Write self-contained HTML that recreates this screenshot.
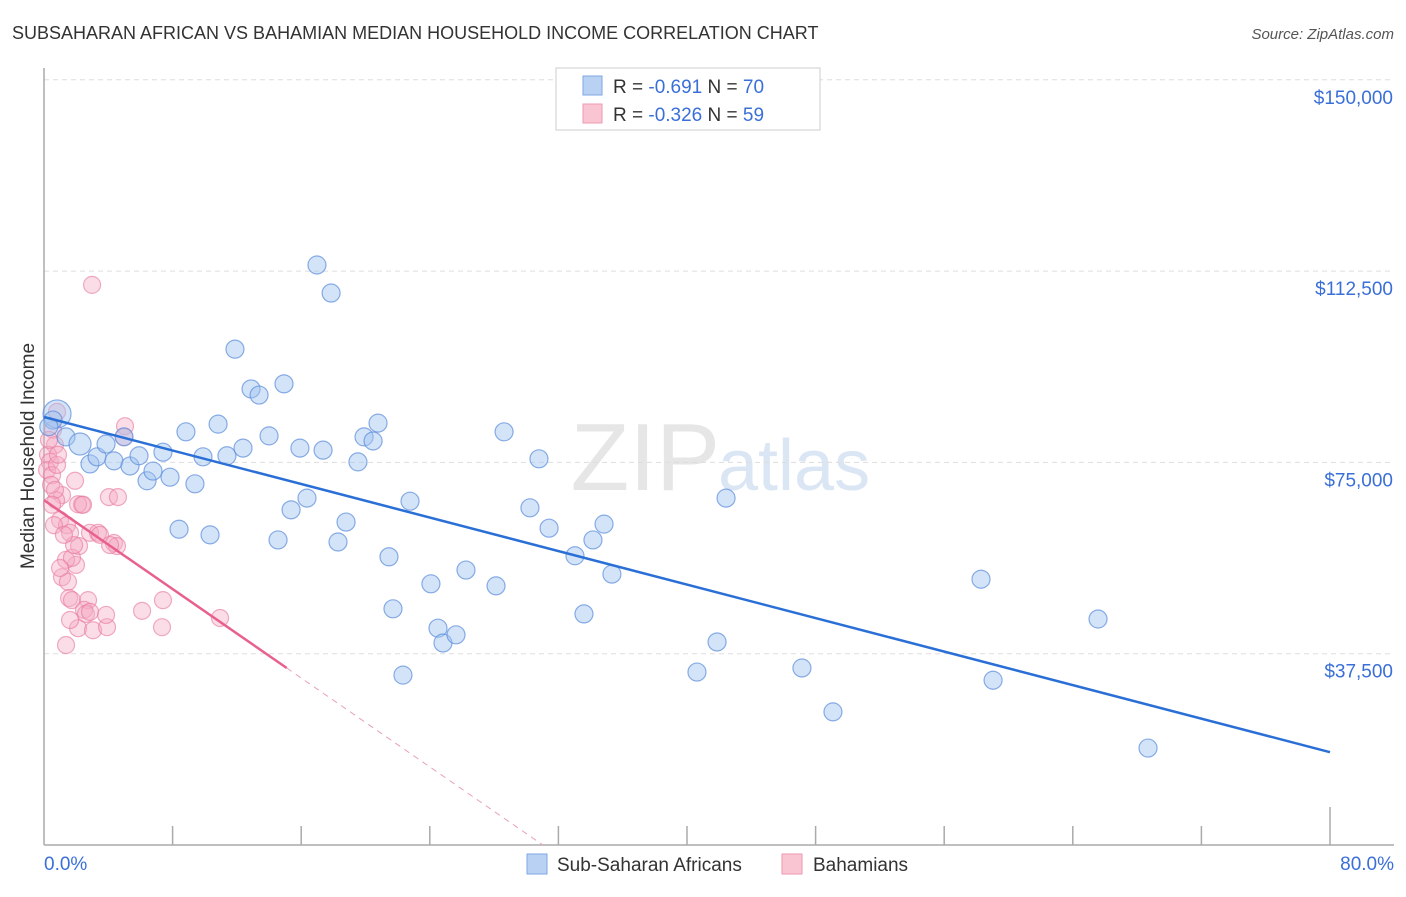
<!DOCTYPE html>
<html><head><meta charset="utf-8"><style>
body{margin:0;background:#fff;font-family:"Liberation Sans",sans-serif;}
svg text{font-family:"Liberation Sans",sans-serif;}
</style></head><body>
<svg id="chart" width="1406" height="892" viewBox="0 0 1406 892" xmlns="http://www.w3.org/2000/svg">
<text x="12" y="39" font-size="18" fill="#333">SUBSAHARAN AFRICAN VS BAHAMIAN MEDIAN HOUSEHOLD INCOME CORRELATION CHART</text>
<text x="1394" y="39" font-size="15" fill="#555" font-style="italic" text-anchor="end">Source: ZipAtlas.com</text>
<text x="720" y="490" font-size="96" fill="#e6e6e6" font-family="Liberation Serif" text-anchor="end">ZIP</text>
<text x="718" y="490" font-size="72" fill="#dbe6f5">atlas</text>
<g id="grid"></g>
<line x1="44" y1="68" x2="44" y2="845" stroke="#aaa" stroke-width="1.5"/>
<line x1="44" y1="845" x2="1394" y2="845" stroke="#aaa" stroke-width="1.5"/>
<g id="xticks"></g>
<text transform="translate(34,456) rotate(-90)" font-size="19" fill="#333" text-anchor="middle">Median Household Income</text>
<text x="44" y="870" font-size="19" fill="#3a6fd8">0.0%</text>
<text x="1394" y="870" font-size="19" fill="#3a6fd8" text-anchor="end">80.0%</text>
<g id="pts"></g>
<g id="lines"></g>
<g>
<rect x="556" y="68" width="264" height="62" fill="#fff" stroke="#ccc"/>
<rect x="583" y="76" width="19" height="19" fill="#b9d1f3" stroke="#7ea6e6"/>
<rect x="583" y="104" width="19" height="19" fill="#f9c5d3" stroke="#ec9ab2"/>
<text x="613" y="93" font-size="19" fill="#333">R = <tspan fill="#3a6fd8">-0.691</tspan>   N = <tspan fill="#3a6fd8">70</tspan></text>
<text x="613" y="121" font-size="19" fill="#333">R = <tspan fill="#3a6fd8">-0.326</tspan>   N = <tspan fill="#3a6fd8">59</tspan></text>
</g>
<g>
<rect x="527" y="854" width="20" height="20" fill="#b9d1f3" stroke="#7ea6e6"/>
<text x="557" y="871" font-size="19" fill="#333">Sub-Saharan Africans</text>
<rect x="782" y="854" width="20" height="20" fill="#f9c5d3" stroke="#ec9ab2"/>
<text x="813" y="871" font-size="19" fill="#333">Bahamians</text>
</g>
</svg>
<script>
const yTicks=[37500,75000,112500,150000];
const yTickLabels=["$37,500","$75,000","$112,500","$150,000"];
const xTicks=[8,16,24,32,40,48,56,64,72,80];
const blueX=[0.81,0.56,1.37,2.24,2.86,3.30,3.86,4.35,4.98,5.35,5.91,6.41,6.78,7.40,7.84,8.83,9.39,8.40,9.89,10.33,10.83,11.38,11.88,12.38,12.88,13.38,14.00,14.56,14.93,15.37,15.92,16.36,16.98,17.36,17.86,18.29,18.79,19.53,19.91,20.47,20.78,21.46,21.71,22.33,22.77,24.07,24.51,24.82,25.63,26.25,28.12,28.62,30.23,30.79,31.42,33.03,33.59,34.15,34.84,35.33,40.62,41.87,42.43,47.15,49.08,58.29,59.04,65.57,68.68,0.3];
const blueY=[84.5,83.3,80.0,78.6,74.7,76.1,78.6,75.3,80.0,74.3,76.3,71.4,73.3,77.0,72.1,81.0,70.8,61.9,76.1,60.8,82.5,76.3,97.2,77.8,89.4,88.2,80.2,59.8,90.4,65.7,77.8,68.0,113.7,77.4,108.2,59.4,63.3,75.1,80.0,79.2,82.7,56.5,46.3,33.3,67.4,51.2,42.5,39.6,41.2,53.9,50.8,81.0,66.1,75.7,62.1,56.7,45.3,59.8,62.9,53.1,33.9,39.8,68.0,34.7,26.1,52.1,32.3,44.3,19.0,82.0];
const blueSize=[14,9,9,11,9,9,9,9,9,9,9,9,9,9,9,9,9,9,9,9,9,9,9,9,9,9,9,9,9,9,9,9,9,9,9,9,9,9,9,9,9,9,9,9,9,9,9,9,9,9,9,9,9,9,9,9,9,9,9,9,9,9,9,9,9,9,9,9,9,9];
const pinkX=[2.99,0.81,0.56,0.68,0.25,0.37,0.19,0.50,0.81,1.12,1.93,2.36,1.00,1.43,1.62,2.86,3.36,2.18,1.99,1.37,1.74,1.12,1.49,1.56,1.74,2.74,2.49,4.04,4.60,5.04,4.98,4.35,4.54,2.12,3.05,3.92,6.10,7.34,7.40,10.95,1.37,2.12,0.75,0.44,0.62,2.61,1.62,1.00,3.48,1.87,1.24,0.31,0.68,2.86,3.86,2.43,4.11,0.87,0.50];
const pinkY=[109.8,84.9,81.4,78.4,76.5,75.1,73.5,72.5,74.5,68.6,71.4,66.7,63.7,62.7,61.2,61.2,61.2,58.6,54.9,55.9,56.3,52.5,51.6,48.4,48.0,48.0,46.1,68.2,68.2,82.1,80.0,59.2,58.6,42.5,42.1,42.7,45.9,42.7,48.0,44.5,39.2,66.8,67.6,70.6,62.7,45.3,44.1,54.3,60.8,58.8,60.8,79.4,69.6,45.7,45.1,66.7,58.8,76.5,66.7];
const blueTrend=[83.9,18.2];
const pinkTrend=[67.6,34.7,15.1];
const NS="http://www.w3.org/2000/svg";
const X0=44,X1=1330,Y0=845,YP=191.3/37500;
function sx(p){return X0+(p/80)*(X1-X0);}
function sy(v){return Y0-v*YP;}
function mk(t,a,parent){const e=document.createElementNS(NS,t);for(const k in a)e.setAttribute(k,a[k]);parent.appendChild(e);return e;}
const grid=document.getElementById('grid');
yTicks.forEach((v,i)=>{
 const l=mk('line',{x1:44,x2:1394,y1:sy(v),y2:sy(v),stroke:'#ddd','stroke-dasharray':'5,4'},grid);
 
 
 const t=mk('text',{x:1393,y:sy(v)+24,'font-size':19,fill:'#3a6fd8','text-anchor':'end'},grid);
 t.textContent=yTickLabels[i];
 
 
});
const xt=document.getElementById('xticks');
xTicks.forEach((p,i)=>{
 const l=mk('line',{x1:sx(p),x2:sx(p),y1:i==xTicks.length-1?807:826,y2:845,stroke:'#aaa','stroke-width':1.5},xt);
 
 
});
const pts=document.getElementById('pts');
pinkX.forEach((p,i)=>{
 const c=mk('circle',{cx:sx(p),cy:sy(pinkY[i]*1000),r:8.5,fill:'rgba(246,170,195,0.4)',stroke:'rgba(232,120,155,0.6)','stroke-width':1.2},pts);
 
 
});
blueX.forEach((p,i)=>{
 const c=mk('circle',{cx:sx(p),cy:sy(blueY[i]*1000),r:blueSize[i],fill:'rgba(160,195,240,0.45)',stroke:'rgba(90,140,220,0.7)','stroke-width':1.2},pts);
 
 
});
const lines=document.getElementById('lines');
const bl=mk('line',{x1:sx(0),y1:sy(blueTrend[0]*1000),x2:sx(80),y2:sy(blueTrend[1]*1000),stroke:'#2a6fd6','stroke-width':2.5},lines);


const slope=(pinkTrend[1]-pinkTrend[0])/pinkTrend[2];
const zeroX=-pinkTrend[0]/slope;
const pl=mk('line',{x1:sx(0),y1:sy(pinkTrend[0]*1000),x2:sx(pinkTrend[2]),y2:sy(pinkTrend[1]*1000),stroke:'#e8608e','stroke-width':2.5},lines);


const pd=mk('line',{x1:sx(pinkTrend[2]),y1:sy(pinkTrend[1]*1000),x2:sx(zeroX),y2:sy(0),stroke:'#e8a0b8','stroke-width':1,'stroke-dasharray':'6,5'},lines);


</script>
</body></html>
